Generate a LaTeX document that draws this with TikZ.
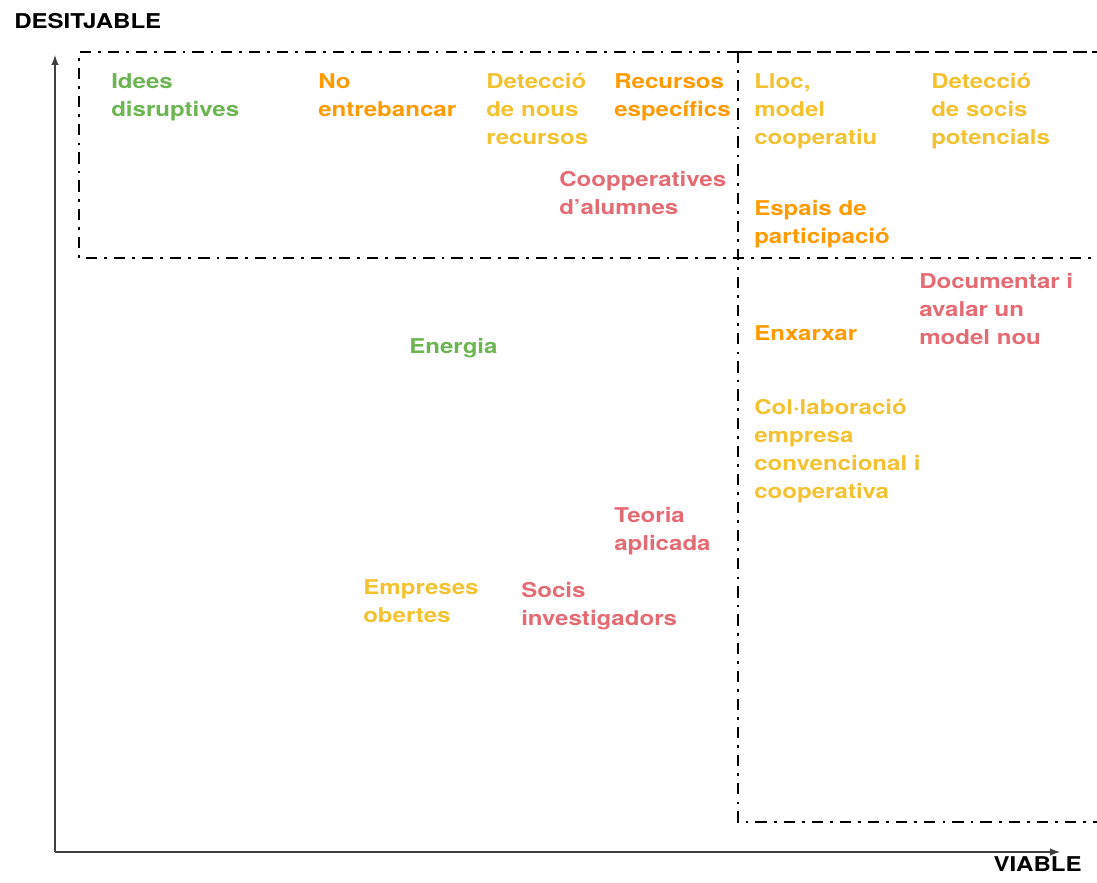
\documentclass[tikz,border=0pt]{standalone}
\usepackage{fontspec}
\setmainfont{TeX Gyre Heros}[FakeStretch=1.18]
\usepackage{tikz}
\usetikzlibrary{arrows}

\definecolor{vgreen}{RGB}{109,181,82}
\definecolor{vorange}{RGB}{255,154,0}
\definecolor{vyellow}{RGB}{242,194,48}
\definecolor{vred}{RGB}{228,106,115}

\tikzset{
  idea/.style={anchor=north west, inner sep=0pt, align=left,
    font=\fontsize{14.5}{19.9}\selectfont\bfseries},
  axislabel/.style={inner sep=0pt, font=\fontsize{14.5}{17}\selectfont\bfseries},
  axisline/.style={draw=black!75, line width=1.4pt, ->, >=latex},
  zone/.style={line width=2pt, dash pattern=on 8pt off 5pt on 2pt off 5pt},
  zonetop/.style={line width=2pt, dash pattern=on 10pt off 4pt}
}

\begin{document}
\begin{tikzpicture}[x=0.025cm, y=-0.025cm]
\useasboundingbox (0,0) rectangle (1097,882);
% axes
	\coordinate (o) at (55,852);
	\coordinate (ytop) at (55,55);
	\coordinate (xend) at (1060,852);
	\draw[axisline] (o) -- (ytop);
	\draw[axisline] (o) -- (xend);
	\node[axislabel, anchor=west] (desitjable) at (14,21) {DESITJABLE};
	\node[axislabel, anchor=east] (viable) at (1082,864) {VIABLE};
% zones
	\coordinate (zl) at (79,52);
	\coordinate (zm) at (738,52);
	\coordinate (zr) at (1099,52);
	\coordinate (ml) at (79,258);
	\coordinate (mr) at (1099,258);
	\coordinate (bm) at (738,822);
	\coordinate (br) at (1099,822);
	\draw[zone] (zm) -- (zl) -- (ml) -- (mr);
	\draw[zone] (zm) -- (bm) -- (br);
	\draw[zonetop] (zm) -- (zr);
% ideas
	\node[idea, text=vgreen] (idees) at (111,73) {Idees\\disruptives};
	\node[idea, text=vorange] (entrebancar) at (318,73) {No\\entrebancar};
	\node[idea, text=vyellow] (recursosnous) at (486,73) {Detecció\\de nous\\recursos};
	\node[idea, text=vorange] (especifics) at (614,73) {Recursos\\específics};
	\node[idea, text=vred] (alumnes) at (559,171) {Coopperatives\\d’alumnes};
	\node[idea, text=vyellow] (lloc) at (754,73) {Lloc,\\model\\cooperatiu};
	\node[idea, text=vyellow] (potencials) at (931,73) {Detecció\\de socis\\potencials};
	\node[idea, text=vorange] (espais) at (754,200) {Espais de\\participació};
	\node[idea, text=vred] (documentar) at (919,273) {Documentar i\\avalar un\\model nou};
	\node[idea, text=vorange] (enxarxar) at (754,325) {Enxarxar};
	\node[idea, text=vgreen] (energia) at (409,338) {Energia};
	\node[idea, text=vyellow] (collab) at (754,399) {Col·laboració\\empresa\\convencional i\\cooperativa};
	\node[idea, text=vred] (teoria) at (614,507) {Teoria\\aplicada};
	\node[idea, text=vyellow] (obertes) at (363,579) {Empreses\\obertes};
	\node[idea, text=vred] (investigadors) at (521,582) {Socis\\investigadors};
\end{tikzpicture}
\end{document}
